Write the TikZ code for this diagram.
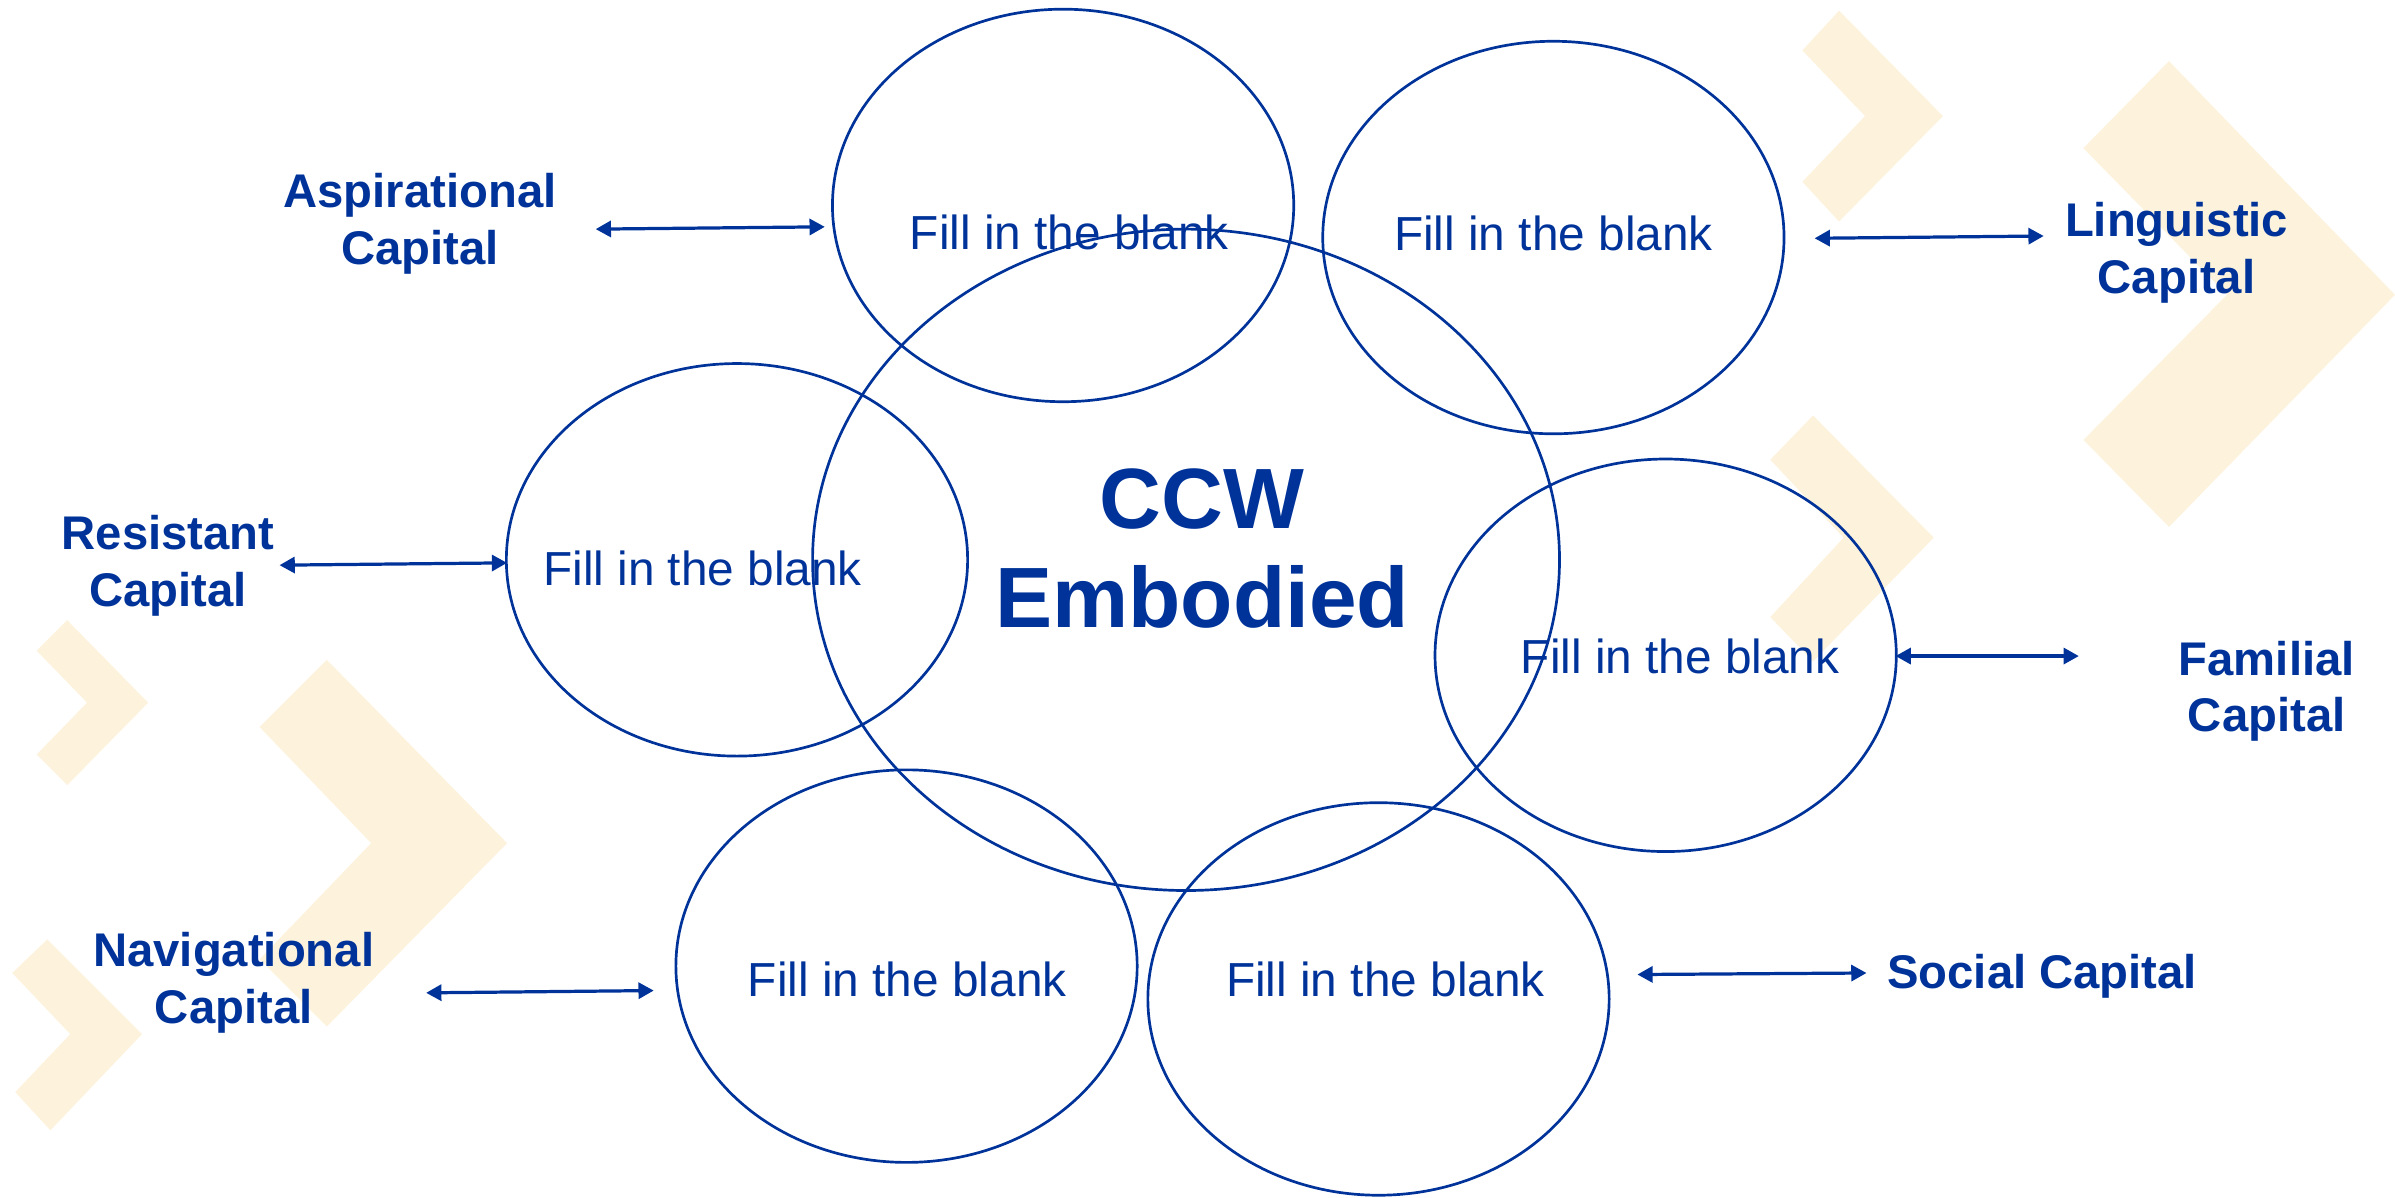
\documentclass[tikz,border=0pt]{standalone}
\usepackage{fontspec}
\setmainfont{Liberation Sans}
\usetikzlibrary{arrows.meta,shapes.geometric}
\definecolor{ccwblue}{RGB}{0,51,153}
\definecolor{chevcream}{RGB}{253,242,220}
\begin{document}
\begin{tikzpicture}[x=0.2mm, y=-0.2mm,
  bubble/.style={draw=ccwblue, line width=1pt, ellipse, inner sep=0pt,
    minimum width=60.4mm, minimum height=51.4mm},
  blank/.style={text=ccwblue, font=\fontsize{17.8}{21}\selectfont},
  capital/.style={text=ccwblue, align=center, font=\bfseries\fontsize{17.6}{21}\selectfont},
  link/.style={ccwblue, line width=1.2pt,
    {Triangle[length=2mm,width=2.1mm]}-{Triangle[length=2mm,width=2.1mm]}},
  chev/.style={fill=chevcream, draw=none}]
\useasboundingbox (0,0) rectangle (1568,784);

% background chevrons
\fill[chev] (1204,7) -- (1272,76) -- (1204,145) -- (1180,119) -- (1221,76) -- (1180,33) -- cycle;
\fill[chev] (1420,40) -- (1568,193) -- (1420,345) -- (1364,288) -- (1458,193) -- (1364,97) -- cycle;
\fill[chev] (1187,272) -- (1266,352) -- (1187,433) -- (1159,404) -- (1207,352) -- (1159,301) -- cycle;
\fill[chev] (44,406) -- (97,460) -- (44,514) -- (24,494) -- (57,460) -- (24,426) -- cycle;
\fill[chev] (214,432) -- (332,552) -- (214,672) -- (170,628) -- (243,552) -- (170,476) -- cycle;
\fill[chev] (31,615) -- (93,677) -- (33,740) -- (10,715) -- (46,677) -- (8,637) -- cycle;

% bubbles
\node[bubble] (asp) at (696,134.5) {};
\node[bubble] (lin) at (1017,155.5) {};
\node[bubble] (res) at (482.5,366.5) {};
\node[bubble] (fam) at (1090.5,429) {};
\node[bubble] (nav) at (593.5,632.5) {};
\node[bubble] (soc) at (902.5,654) {};
\node[bubble, minimum width=97.8mm, minimum height=86.6mm] (ccw) at (776.5,366.5) {};

\node[blank] (aspt) at (700,152) {Fill in the blank};
\node[blank] (lint) at (1017,153) {Fill in the blank};
\node[blank] (rest) at (460,372) {Fill in the blank};
\node[blank] (famt) at (1100,430) {Fill in the blank};
\node[blank] (navt) at (594,641) {Fill in the blank};
\node[blank] (soct) at (907,641) {Fill in the blank};
\node[text=ccwblue, align=center, font=\bfseries\fontsize{31.9}{37}\selectfont]
  (ccwt) at (787,359) {CCW\\Embodied};

% capitals
\node[capital] (aspc) at (275,146.5) {Aspirational\\Capital};
\node[capital] (linc) at (1425,165.5) {Linguistic\\Capital};
\node[capital] (resc) at (110,370.5) {Resistant\\Capital};
\node[capital] (famc) at (1484,452.5) {Familial\\Capital};
\node[capital] (navc) at (153,643.5) {Navigational\\Capital};
\node[capital] (socc) at (1337,639) {Social Capital};

% arrows
\coordinate (aspA) at (390,150);   \coordinate (aspB) at (540,148.5);
\coordinate (linA) at (1188,156);  \coordinate (linB) at (1338,154.5);
\coordinate (resA) at (183,370);   \coordinate (resB) at (332,368.5);
\coordinate (famA) at (1241,429.5);\coordinate (famB) at (1361,429.5);
\coordinate (navA) at (279,650);   \coordinate (navB) at (428,648.5);
\coordinate (socA) at (1072,638);  \coordinate (socB) at (1222,637);
\draw[link] (aspA) -- (aspB);
\draw[link] (linA) -- (linB);
\draw[link] (resA) -- (resB);
\draw[link] (famA) -- (famB);
\draw[link] (navA) -- (navB);
\draw[link] (socA) -- (socB);
\end{tikzpicture}
\end{document}
